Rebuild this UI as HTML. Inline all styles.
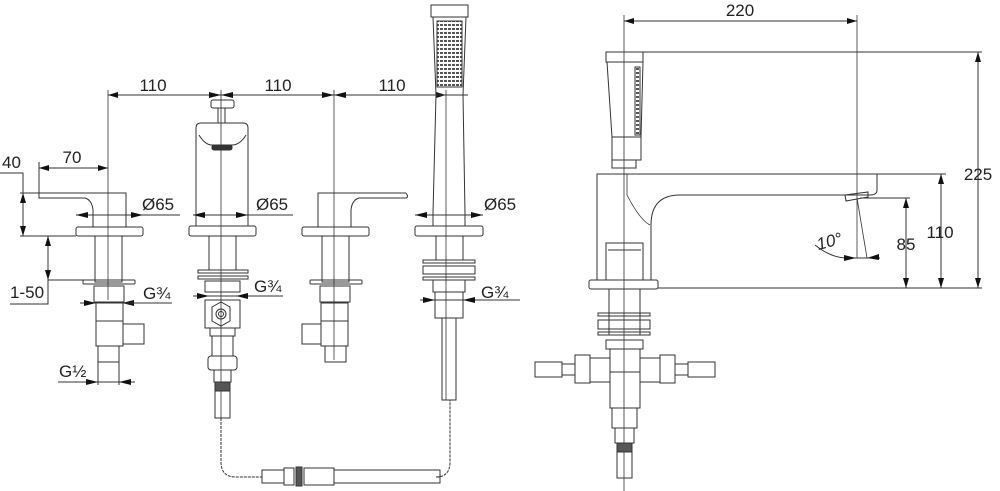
<!DOCTYPE html>
<html><head><meta charset="utf-8"><style>
html,body{margin:0;padding:0;background:#fff;width:1000px;height:491px;overflow:hidden}
svg{display:block}
text{font-family:"Liberation Sans",sans-serif;font-size:17px;fill:#222}
</style></head><body>
<svg width="1000" height="491" viewBox="0 0 1000 491" xmlns="http://www.w3.org/2000/svg">
<defs>
<marker id="a" viewBox="0 0 10 6" refX="10" refY="3" markerWidth="10" markerHeight="6" orient="auto-start-reverse" markerUnits="userSpaceOnUse"><path d="M0,0L10,3L0,6z" fill="#111"/></marker>
<pattern id="g" width="4" height="4" patternUnits="userSpaceOnUse"><rect width="4" height="4" fill="#fff"/><rect width="3" height="2" fill="#555"/></pattern>
</defs>
<g fill="none" stroke="#333" stroke-width="1">
<line x1="108" y1="95" x2="446" y2="95" marker-start="url(#a)" marker-end="url(#a)"/>
<path d="M221,95l-12,-3v6z M221,95l12,-3v6z M334,95l-12,-3v6z M334,95l12,-3v6z" fill="#111" stroke="none"/>
<line x1="108" y1="90" x2="108" y2="300" stroke-width="0.8"/>
<line x1="221" y1="90" x2="221" y2="420" stroke-width="0.8"/>
<line x1="334" y1="90" x2="334" y2="360" stroke-width="0.8"/>
<line x1="446" y1="90" x2="446" y2="400" stroke-width="0.8"/>

<!-- valve 1 -->
<line x1="39" y1="168" x2="108" y2="168" marker-start="url(#a)" marker-end="url(#a)"/>
<line x1="39" y1="162" x2="39" y2="193"/>
<path d="M0,173H23V236"/>
<line x1="23" y1="193" x2="23" y2="236" marker-start="url(#a)" marker-end="url(#a)"/>
<line x1="20" y1="193" x2="95" y2="193"/>
<line x1="20" y1="236" x2="76" y2="236"/>
<line x1="48" y1="236" x2="48" y2="280" marker-start="url(#a)" marker-end="url(#a)"/>
<path d="M48,280H90 M48,280V304H10"/>
<path d="M39,193H126V227H93 M39,193V198H85Q92,200 93,210V227"/>
<rect x="76" y="227" width="67" height="9" rx="2"/>
<rect x="95" y="236" width="27" height="46"/>
<rect x="83" y="280" width="52" height="4" rx="1"/>
<rect x="94" y="286" width="30" height="16"/>
<line x1="80" y1="303" x2="144" y2="303"/>
<path d="M96,303l-12,-3v6z M122,303l12,-3v6z" fill="#111" stroke="none"/>
<line x1="122" y1="303" x2="172" y2="303"/>
<rect x="96" y="303" width="27" height="18"/>
<rect x="96" y="321" width="27" height="25"/>
<rect x="123" y="324" width="21" height="20"/>
<rect x="98" y="346" width="21" height="16"/>
<line x1="98" y1="346" x2="98" y2="385"/><line x1="119" y1="346" x2="119" y2="385"/>
<line x1="58" y1="382" x2="135" y2="382"/>
<path d="M98,382l-12,-3v6z M119,382l12,-3v6z" fill="#111" stroke="none"/>
<line x1="76" y1="215" x2="143" y2="215"/>
<path d="M76,215l12,-3v6z M143,215l-12,-3v6z" fill="#111" stroke="none"/>
<line x1="143" y1="215" x2="180" y2="215"/>

<!-- valve 2 -->
<rect x="211" y="100" width="23" height="8" rx="2"/>
<line x1="218" y1="108" x2="218" y2="123"/><line x1="225" y1="108" x2="225" y2="123"/>
<path d="M196,226V128Q196,123 201,123H243Q248,123 248,128V226"/>
<path d="M199,135Q205,145 212,145H232Q240,145 246,135"/>
<rect x="212" y="145" width="20" height="5" rx="2" fill="#333"/>
<rect x="189" y="226" width="67" height="10" rx="2"/>
<rect x="209" y="236" width="27" height="34"/>
<rect x="198" y="270" width="50" height="3"/>
<rect x="198" y="276" width="50" height="3"/>
<rect x="205" y="281" width="35" height="11"/>
<line x1="193" y1="296" x2="283" y2="296"/>
<path d="M209,296l-12,-3v6z M236,296l12,-3v6z" fill="#111" stroke="none"/>
<rect x="205" y="300" width="35" height="28"/>
<path d="M212,307L221,302L230,307V321L221,326L212,321Z"/>
<circle cx="221" cy="314" r="5"/><circle cx="221" cy="314" r="2.5"/>
<rect x="210" y="328" width="25" height="8"/>
<rect x="212" y="336" width="21" height="20"/>
<rect x="208" y="356" width="29" height="14" rx="3"/>
<rect x="214" y="370" width="17" height="12"/>
<rect x="215" y="382" width="15" height="9" fill="#555"/>
<rect x="215" y="391" width="15" height="27"/>
<line x1="193" y1="215" x2="256" y2="215"/>
<path d="M193,215l12,-3v6z M248,215l-12,-3v6z" fill="#111" stroke="none"/>
<line x1="256" y1="215" x2="293" y2="215"/>

<!-- valve 3 -->
<path d="M406,193H318V227H351 M406,193Q409,197 406,198H359Q352,200 351,210V227"/>
<rect x="302" y="227" width="67" height="9" rx="2"/>
<rect x="322" y="236" width="27" height="46"/>
<rect x="310" y="280" width="52" height="4" rx="1"/>
<rect x="320" y="286" width="30" height="16"/>
<rect x="321" y="303" width="27" height="18"/>
<rect x="321" y="321" width="27" height="25"/>
<rect x="302" y="324" width="19" height="20"/>
<rect x="325" y="346" width="21" height="16"/>

<!-- valve 4 hand shower -->
<rect x="431" y="5" width="37" height="12"/>
<path d="M433,17L436,95H463L466,17"/>
<rect x="437" y="21" width="25" height="66" fill="url(#g)"/>
<path d="M436,95L433,213 M463,95L465,213 M431,95H468"/>
<rect x="415" y="226" width="68" height="10" rx="2"/>
<line x1="433" y1="213" x2="433" y2="226"/><line x1="465" y1="213" x2="465" y2="226"/>
<rect x="436" y="236" width="27" height="24"/>
<rect x="423" y="260" width="52" height="3"/>
<rect x="423" y="266" width="52" height="8"/>
<rect x="423" y="277" width="52" height="3"/>
<rect x="433" y="280" width="32" height="12"/>
<rect x="435" y="292" width="28" height="26"/>
<rect x="442" y="318" width="14" height="82"/>
<line x1="415" y1="215" x2="483" y2="215"/>
<path d="M415,215l12,-3v6z M483,215l-12,-3v6z" fill="#111" stroke="none"/>
<line x1="420" y1="300" x2="520" y2="300"/>
<path d="M435,300l-12,-3v6z M463,300l12,-3v6z" fill="#111" stroke="none"/>

<!-- hose -->
<path d="M221,418V462Q221,477 236,477H262 M440,477H436Q450,477 450,462V400" stroke-dasharray="3,1"/>
<rect x="262" y="470" width="22" height="13"/>
<rect x="284" y="468" width="10" height="17"/>
<rect x="296" y="467" width="6" height="19" fill="#555"/>
<rect x="304" y="468" width="30" height="17"/>
<rect x="334" y="470" width="106" height="13"/>

<!-- right view -->
<line x1="624" y1="15" x2="624" y2="491" stroke-width="0.8"/>
<line x1="857" y1="15" x2="857" y2="258" stroke-width="0.8"/>
<line x1="624" y1="21" x2="857" y2="21" marker-start="url(#a)" marker-end="url(#a)"/>
<rect x="606" y="52" width="37" height="10"/>
<path d="M607,62L612,137H641L643,62"/>
<rect x="635" y="67" width="5" height="68" fill="url(#g)"/>
<rect x="612" y="137" width="29" height="23"/>
<rect x="612" y="160" width="24" height="8"/>
<path d="M597,280V174H877V190Q877,195 870,195H680Q651,195 651,225V280"/>
<path d="M627,174V195Q640,220 650,225" stroke-width="0.8"/>
<path d="M845,195L868,192V197L846,201Z"/>
<rect x="606" y="243" width="37" height="37"/>
<line x1="608" y1="250" x2="641" y2="250"/>
<rect x="589" y="280" width="69" height="9" rx="2"/>
<line x1="643" y1="52" x2="982" y2="52"/>
<line x1="877" y1="174" x2="946" y2="174"/>
<line x1="860" y1="198" x2="910" y2="198"/>
<line x1="658" y1="288" x2="982" y2="288"/>
<line x1="978" y1="52" x2="978" y2="288" marker-start="url(#a)" marker-end="url(#a)"/>
<line x1="941" y1="174" x2="941" y2="288" marker-start="url(#a)" marker-end="url(#a)"/>
<line x1="906" y1="198" x2="906" y2="288" marker-start="url(#a)" marker-end="url(#a)"/>
<line x1="857" y1="198" x2="867" y2="258" stroke-width="0.8"/>
<path d="M815,245Q830,257 845,258 H880"/>
<path d="M856,258l-12,-3v6z M867,258l12,-4v6z" fill="#111" stroke="none"/>
<rect x="609" y="289" width="31" height="46"/>
<rect x="598" y="313" width="52" height="3"/>
<rect x="598" y="320" width="52" height="9"/>
<rect x="598" y="332" width="52" height="3"/>
<rect x="606" y="340" width="37" height="9"/>
<rect x="610" y="349" width="30" height="23"/>
<rect x="535" y="362" width="27" height="15"/>
<rect x="562" y="364" width="13" height="11"/>
<rect x="575" y="355" width="15" height="28"/>
<rect x="590" y="358" width="20" height="24"/>
<rect x="640" y="358" width="20" height="24"/>
<rect x="660" y="355" width="15" height="28"/>
<rect x="675" y="364" width="13" height="11"/>
<rect x="688" y="362" width="27" height="15"/>
<rect x="610" y="372" width="30" height="36"/>
<rect x="612" y="408" width="25" height="20"/>
<rect x="615" y="428" width="19" height="15"/>
<rect x="617" y="443" width="15" height="9" fill="#555"/>
<rect x="617" y="452" width="15" height="26"/>
</g>
<g>
<text x="153" y="91" text-anchor="middle">110</text>
<text x="278" y="91" text-anchor="middle">110</text>
<text x="392" y="91" text-anchor="middle">110</text>
<text x="72" y="163" text-anchor="middle">70</text>
<text x="2" y="168">40</text>
<text x="10" y="298">1-50</text>
<text x="142" y="210">Ø65</text>
<text x="256" y="210">Ø65</text>
<text x="484" y="210">Ø65</text>
<text x="143" y="299">G¾</text>
<text x="254" y="292">G¾</text>
<text x="481" y="298">G¾</text>
<text x="59" y="377">G½</text>
<text x="740" y="16" text-anchor="middle">220</text>
<text x="978" y="180" text-anchor="middle">225</text>
<text x="940" y="238" text-anchor="middle">110</text>
<text x="906" y="250" text-anchor="middle">85</text>
<text x="818" y="247" font-style="italic" transform="rotate(-15 830 247)">10°</text>
</g>
</svg>
</body></html>
